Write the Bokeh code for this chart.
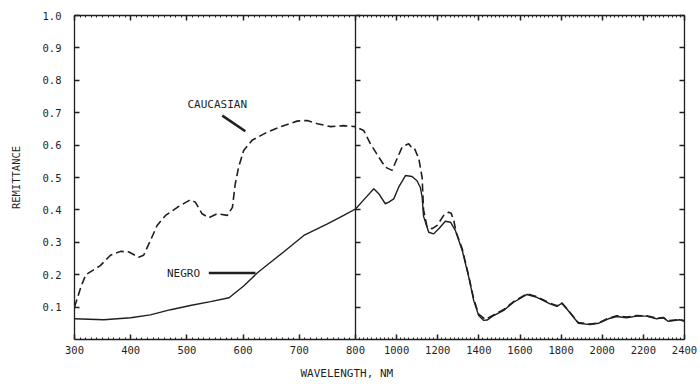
import numpy as np
from bokeh.plotting import figure
from bokeh.layouts import row
from bokeh.models import (LinearAxis, FixedTicker, Label, CustomJSTickFormatter, Range1d,
                          PrintfTickFormatter, Title)
from bokeh.embed import file_html
from bokeh.resources import INLINE

# ---------------- data ----------------
caucasian_wl = [300, 311, 320, 346, 364, 382, 397, 414, 423, 435, 447, 462, 483, 506, 515,
                527, 539, 554, 572, 581, 586, 592, 601, 616, 643, 672, 696, 714, 732, 756,
                779, 800, 840, 873, 913, 945, 978, 1002, 1027, 1045, 1059, 1070, 1084, 1108,
                1124, 1131, 1148, 1173, 1197, 1229, 1253, 1265, 1278, 1290, 1319, 1351, 1375,
                1399, 1432, 1472, 1521, 1569, 1634, 1682, 1746, 1780, 1803, 1827, 1884, 1941,
                1981, 2030, 2070, 2119, 2167, 2216, 2264, 2297, 2321, 2377, 2400]
caucasian_rem = [0.100, 0.160, 0.200, 0.228, 0.260, 0.272, 0.270, 0.254, 0.260, 0.305, 0.352,
                 0.383, 0.408, 0.431, 0.424, 0.388, 0.376, 0.388, 0.383, 0.408, 0.480, 0.532,
                 0.583, 0.615, 0.640, 0.660, 0.674, 0.676, 0.666, 0.657, 0.660, 0.657, 0.645,
                 0.604, 0.563, 0.532, 0.522, 0.558, 0.594, 0.600, 0.604, 0.595, 0.594, 0.558,
                 0.500, 0.400, 0.347, 0.342, 0.352, 0.383, 0.393, 0.390, 0.367, 0.330, 0.280,
                 0.195, 0.125, 0.078, 0.062, 0.076, 0.093, 0.117, 0.141, 0.132, 0.112, 0.104,
                 0.113, 0.096, 0.052, 0.048, 0.051, 0.066, 0.073, 0.069, 0.074, 0.073, 0.066,
                 0.068, 0.058, 0.062, 0.058]

negro_wl = [300, 352, 400, 435, 471, 506, 542, 575, 601, 625, 650, 672, 708, 750, 779, 800,
            840, 889, 913, 945, 962, 986, 1010, 1043, 1075, 1099, 1115, 1124, 1131, 1156,
            1180, 1205, 1237, 1262, 1286, 1319, 1351, 1375, 1399, 1424, 1440, 1472, 1521,
            1569, 1634, 1682, 1746, 1780, 1803, 1827, 1884, 1941, 1981, 2030, 2070, 2119,
            2167, 2216, 2264, 2297, 2321, 2377, 2400]
negro_rem = [0.064, 0.061, 0.067, 0.076, 0.092, 0.105, 0.117, 0.129, 0.165, 0.205, 0.240,
             0.270, 0.321, 0.357, 0.383, 0.403, 0.431, 0.465, 0.450, 0.419, 0.424, 0.434,
             0.470, 0.506, 0.503, 0.490, 0.470, 0.440, 0.380, 0.331, 0.326, 0.342, 0.365,
             0.362, 0.336, 0.275, 0.192, 0.120, 0.074, 0.059, 0.060, 0.074, 0.090, 0.115,
             0.139, 0.130, 0.110, 0.102, 0.112, 0.095, 0.050, 0.046, 0.050, 0.064, 0.071,
             0.067, 0.072, 0.072, 0.064, 0.067, 0.056, 0.061, 0.056]

x_ticks_visible = [300, 400, 500, 600, 700]
x_ticks_infrared = [800, 1000, 1200, 1400, 1600, 1800, 2000, 2200, 2400]
y_ticks = [0.1, 0.2, 0.3, 0.4, 0.5, 0.6, 0.7, 0.8, 0.9, 1.0]

INK = "#1f1f1f"
FONT = "DejaVu Sans Mono"
BLANK = CustomJSTickFormatter(code="return ''")


def style_axis(ax, labels=True):
    ax.axis_line_color = INK
    ax.axis_line_width = 1.3
    ax.major_tick_line_color = INK
    ax.major_tick_line_width = 1.5
    ax.major_tick_in = 5
    ax.major_tick_out = 0
    ax.minor_tick_line_color = INK
    ax.minor_tick_in = 2
    ax.minor_tick_out = 0
    ax.major_label_text_font = FONT
    ax.major_label_text_font_size = "10.5px"
    ax.major_label_text_color = INK
    if not labels:
        ax.formatter = BLANK


def base_fig(width, x_range, min_left, min_right, **kw):
    p = figure(width=width, height=387, x_range=x_range, y_range=Range1d(0, 1.0),
               output_backend="svg", toolbar_location=None,
               min_border_left=min_left, min_border_right=min_right,
               min_border_top=15, min_border_bottom=48, **kw)
    p.border_fill_color = None
    p.background_fill_color = None
    p.outline_line_color = None
    p.xgrid.visible = False
    p.ygrid.visible = False
    return p


# ---------------- left panel: 300-800 nm ----------------
vis_ticker = FixedTicker(ticks=x_ticks_visible, minor_ticks=list(range(300, 801, 10)))
y_ticker = FixedTicker(ticks=y_ticks, minor_ticks=[])

p1 = base_fig(355, Range1d(300, 800), 74, 0)
p1.xaxis.ticker = vis_ticker
p1.yaxis.ticker = y_ticker
style_axis(p1.xaxis[0])
style_axis(p1.yaxis[0])
p1.yaxis.formatter = PrintfTickFormatter(format="%.1f")
p1.xaxis.major_label_standoff = 6
p1.yaxis.major_label_standoff = 13
p1.yaxis.axis_label = "REMITTANCE"
p1.yaxis.axis_label_text_font = FONT
p1.yaxis.axis_label_text_font_size = "10.5px"
p1.yaxis.axis_label_text_font_style = "normal"
p1.yaxis.axis_label_text_color = INK
p1.yaxis.axis_label_standoff = 18
top1 = LinearAxis(ticker=vis_ticker)
style_axis(top1, labels=False)
p1.add_layout(top1, "above")

p1.line(caucasian_wl, caucasian_rem, line_color=INK, line_width=1.6, line_dash="8 4")
p1.line(negro_wl, negro_rem, line_color=INK, line_width=1.4)

p1.add_layout(Label(x=554, y=0.724, text="CAUCASIAN", text_align="center",
                    text_baseline="middle", text_font=FONT, text_font_size="11px",
                    text_color=INK))
p1.segment(x0=[563], y0=[0.691], x1=[604], y1=[0.643], line_color=INK, line_width=2.5)
p1.add_layout(Label(x=494, y=0.203, text="NEGRO", text_align="center",
                    text_baseline="middle", text_font=FONT, text_font_size="11px",
                    text_color=INK))
p1.segment(x0=[539], y0=[0.205], x1=[622], y1=[0.205], line_color=INK, line_width=2.5)

# ---------------- right panel: 800-2400 nm ----------------
ir_ticker = FixedTicker(ticks=x_ticks_infrared, minor_ticks=list(range(800, 2401, 20)))

p2 = base_fig(405, Range1d(800, 2400), 60, 16, margin=(0, 0, 0, -60))
p2.xaxis.ticker = ir_ticker
p2.yaxis.ticker = y_ticker
style_axis(p2.xaxis[0])
style_axis(p2.yaxis[0], labels=False)
p2.xaxis.major_label_standoff = 6
top2 = LinearAxis(ticker=ir_ticker)
style_axis(top2, labels=False)
p2.add_layout(top2, "above")
right2 = LinearAxis(ticker=y_ticker)
style_axis(right2, labels=False)
p2.add_layout(right2, "right")

p2.line(caucasian_wl, caucasian_rem, line_color=INK, line_width=1.6, line_dash="8 4")
p2.line(negro_wl, negro_rem, line_color=INK, line_width=1.4)

p2.add_layout(Title(text="WAVELENGTH, NM", align="left", offset=-55, standoff=16,
                    text_font=FONT, text_font_size="11px", text_font_style="normal",
                    text_color=INK), "below")

layout = row(p1, p2)
open("out.html", "w").write(file_html(layout, INLINE))
